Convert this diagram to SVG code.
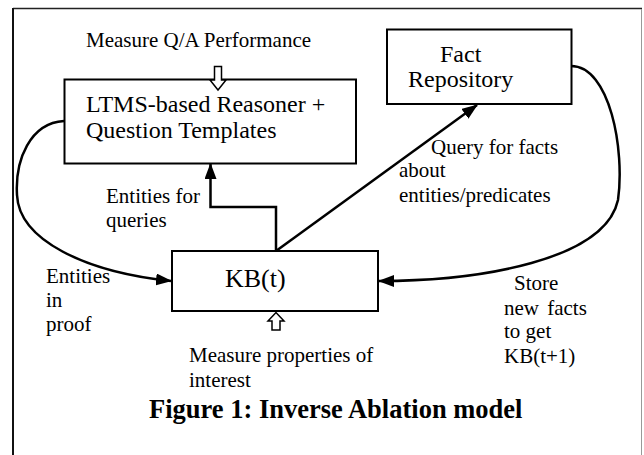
<svg xmlns="http://www.w3.org/2000/svg" width="644" height="455" viewBox="0 0 644 455">
<style>
text{font-family:"Liberation Serif","Times New Roman",serif;fill:#000}
.t{font-size:21px}
.b{font-size:24px}
.box{fill:#fff;stroke:#000;stroke-width:2}
.c{fill:none;stroke:#000;stroke-width:2.5}
.h{fill:#fff;stroke:#000;stroke-width:1.5}
</style>
<defs>
<marker id="ah" viewBox="0 0 16 12" refX="15" refY="6" markerWidth="16" markerHeight="12" markerUnits="userSpaceOnUse" orient="auto">
<path d="M0,0 L16,6 L0,12 Z" fill="#000"/>
</marker>
</defs>
<rect width="644" height="455" fill="#fff"/>
<g id="frame">
<line x1="13" y1="8.5" x2="642" y2="8.5" stroke="#222" stroke-width="1.5"/>
<line x1="13" y1="8" x2="13" y2="455" stroke="#111" stroke-width="2"/>
<line x1="641.5" y1="9" x2="641.5" y2="455" stroke="#999" stroke-width="1"/>
</g>
<g id="connectors">
<path class="c" d="M64,121 C30,123 15,160 17,195 C19,240 85,272 171,281" marker-end="url(#ah)"/>
<path class="c" d="M571,66 C610,66 625,150 618,200 C605,260 480,281 379,281" marker-end="url(#ah)"/>
<path class="c" d="M276,251 L477,105" marker-end="url(#ah)"/>
<path class="c" d="M276,251 L276,207 L210.5,207 L210.5,164" marker-end="url(#ah)"/>
</g>
<g id="ltms">
<rect class="box" x="64.5" y="79.5" width="291.5" height="84"/>
<text class="b" x="86" y="112">LTMS-based Reasoner +</text>
<text class="b" x="86" y="138">Question Templates</text>
</g>
<g id="fact">
<rect class="box" x="387" y="29.5" width="184.5" height="74.5"/>
<text class="b" x="440" y="62">Fact</text>
<text class="b" x="408" y="87">Repository</text>
</g>
<g id="kb">
<rect class="box" x="172" y="251" width="206" height="60"/>
<text x="225" y="287" font-size="26">KB(t)</text>
</g>
<g id="measure-qa">
<text class="t" x="86" y="47">Measure Q/A Performance</text>
<path class="h" d="M214.5,66.5 L221.5,66.5 L221.5,80 L226,80 L218,90 L210,80 L214.5,80 Z"/>
</g>
<g id="measure-props">
<path class="h" d="M272,330 L280,330 L280,321 L284,321 L276,312.5 L268,321 L272,321 Z"/>
<text class="t" x="189" y="362">Measure properties of</text>
<text class="t" x="189" y="387">interest</text>
</g>
<g id="labels">
<text class="t" x="431" y="154">Query for facts</text>
<text class="t" x="399" y="177">about</text>
<text class="t" x="399" y="202">entities/predicates</text>
<text class="t" x="106" y="203">Entities for</text>
<text class="t" x="106" y="227">queries</text>
<text class="t" x="46" y="283">Entities</text>
<text class="t" x="46" y="307">in</text>
<text class="t" x="46" y="331">proof</text>
<text class="t" x="514" y="290">Store</text>
<text class="t" x="504" y="315" word-spacing="3">new facts</text>
<text class="t" x="504" y="338">to get</text>
<text class="t" x="504" y="363">KB(t+1)</text>
</g>
<g id="caption">
<text x="149" y="418" font-size="26.5" font-weight="bold">Figure 1: Inverse Ablation model</text>
</g>
</svg>
